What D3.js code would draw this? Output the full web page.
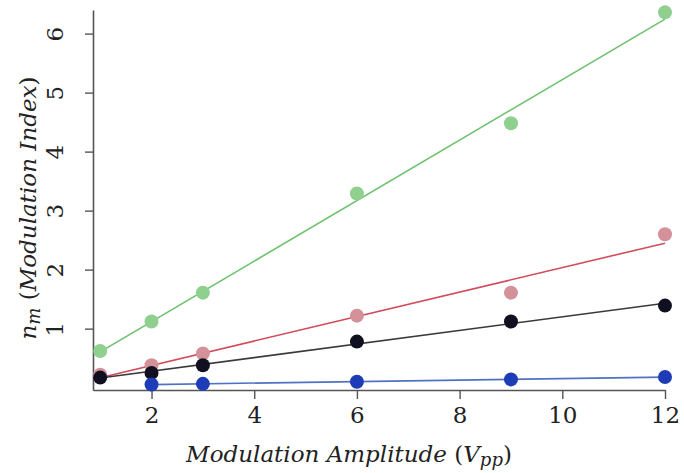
<!DOCTYPE html>
<html>
<head>
<meta charset="utf-8">
<script src="https://cdn.jsdelivr.net/npm/d3@7"></script>
<style>
  html, body { margin: 0; padding: 0; background: #fff; }
</style>
</head>
<body>
<svg id="chart" width="684" height="473"></svg>
<script>
// Modulation amplitude (Vpp) at which each series was measured
const ampAll = [1, 2, 3, 6, 9, 12];
const ampBlue = [2, 3, 6, 9, 12];

// Modulation index n_m for each series
const greenVals = [0.62, 1.12, 1.61, 3.29, 4.48, 6.36];
const redVals   = [0.22, 0.38, 0.58, 1.22, 1.61, 2.60];
const blackVals = [0.17, 0.25, 0.38, 0.78, 1.12, 1.39];
const blueVals  = [0.054, 0.064, 0.10, 0.14, 0.18];

const xTicks = [2, 4, 6, 8, 10, 12];
const yTicks = [1, 2, 3, 4, 5, 6];

const FONT = "'DejaVu Serif', 'Liberation Serif', serif";

const series = [
  { x: ampAll,  y: greenVals, dot: "#8fd08f", line: "#6cc26c" },
  { x: ampAll,  y: redVals,   dot: "#d4919a", line: "#d24b5a" },
  { x: ampAll,  y: blackVals, dot: "#101020", line: "#3a3a3a" },
  { x: ampBlue, y: blueVals,  dot: "#1f3cb8", line: "#4f72c4" }
];

const svg = d3.select("#chart");
const x = d3.scaleLinear().domain([0.86, 12]).range([93, 665]);
const y = d3.scaleLinear().domain([-0.04, 6.4]).range([390, 10]);

// Least-squares straight line through a series
function fit(xs, ys) {
  const n = xs.length;
  const mx = d3.mean(xs), my = d3.mean(ys);
  let sxy = 0, sxx = 0;
  for (let i = 0; i < n; i++) { sxy += (xs[i] - mx) * (ys[i] - my); sxx += (xs[i] - mx) ** 2; }
  const b = sxy / sxx, a = my - b * mx;
  const x0 = d3.min(xs), x1 = d3.max(xs);
  return [[x0, a + b * x0], [x1, a + b * x1]];
}

// Axes
const xAxis = d3.axisBottom(x).tickValues(xTicks).tickSize(9).tickSizeOuter(0).tickPadding(8);
const gx = svg.append("g").attr("transform", "translate(0,390)").call(xAxis);
gx.attr("font-family", FONT);
gx.select(".domain").attr("stroke", "#555").attr("stroke-width", 1.6);
gx.selectAll(".tick line").attr("stroke", "#555").attr("stroke-width", 1.4);
gx.selectAll(".tick text").attr("font-size", 23).attr("fill", "#222").attr("font-family", FONT);

const yAxis = d3.axisLeft(y).tickValues(yTicks).tickSize(8).tickSizeOuter(0).tickFormat(d3.format("d"));
const gy = svg.append("g").attr("transform", "translate(93,0)").call(yAxis);
gy.attr("font-family", FONT);
gy.select(".domain").attr("stroke", "#555").attr("stroke-width", 1.6);
gy.selectAll(".tick line").attr("stroke", "#555").attr("stroke-width", 1.4);
gy.selectAll(".tick text")
  .attr("font-size", 23).attr("fill", "#222").attr("font-family", FONT)
  .attr("x", null).attr("dy", null)
  .attr("text-anchor", "middle")
  .attr("transform", "translate(-30,0) rotate(-90)")
  .attr("y", 0);

// Fit lines and measured points
series.forEach(s => {
  const pts = fit(s.x, s.y);
  svg.append("line")
    .attr("x1", x(pts[0][0])).attr("y1", y(pts[0][1]))
    .attr("x2", x(pts[1][0])).attr("y2", y(pts[1][1]))
    .attr("stroke", s.line).attr("stroke-width", 1.6);
});
series.forEach(s => {
  svg.append("g").selectAll("circle")
    .data(s.x.map((v, i) => [v, s.y[i]]))
    .join("circle")
    .attr("cx", d => x(d[0])).attr("cy", d => y(d[1]))
    .attr("r", 7).attr("fill", s.dot);
});

// Axis titles
const xt = svg.append("text")
  .attr("x", 349).attr("y", 462)
  .attr("text-anchor", "middle").attr("fill", "#222").attr("font-family", FONT)
  .attr("font-size", 23).attr("font-style", "italic");
xt.append("tspan").text("Modulation Amplitude ");
xt.append("tspan").attr("font-style", "normal").text("(");
xt.append("tspan").text("V");
xt.append("tspan").attr("font-size", 18).attr("dy", 4).text("pp");
xt.append("tspan").attr("font-style", "normal").attr("dy", -4).text(")");

const yt = svg.append("text")
  .attr("transform", "translate(36,208) rotate(-90)")
  .attr("text-anchor", "middle").attr("fill", "#222").attr("font-family", FONT)
  .attr("font-size", 23).attr("font-style", "italic");
yt.append("tspan").text("n");
yt.append("tspan").attr("font-size", 18).attr("dy", 4).text("m");
yt.append("tspan").attr("dy", -4).attr("font-style", "normal").text(" (");
yt.append("tspan").text("Modulation Index");
yt.append("tspan").attr("font-style", "normal").text(")");
</script>
</body>
</html>
